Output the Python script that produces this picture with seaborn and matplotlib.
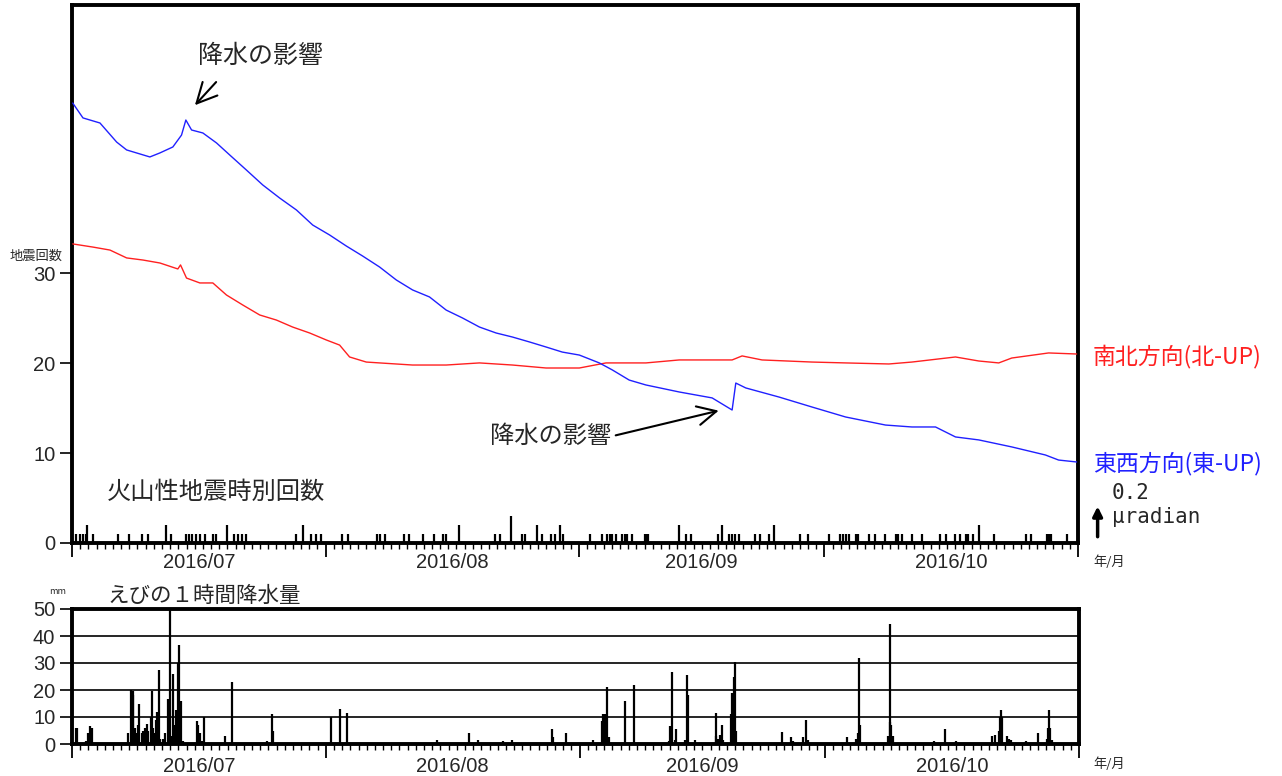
import pandas as pd
import numpy as np
import matplotlib
matplotlib.use("Agg")
import matplotlib.pyplot as plt
import matplotlib.dates as mdates
from matplotlib.transforms import blended_transform_factory
import seaborn as sns

# ---------------- data ----------------
start = pd.Timestamp("2016-07-01")
end = pd.Timestamp("2016-11-01")
month_labels = ["2016/07", "2016/08", "2016/09", "2016/10"]

# hourly volcanic earthquake counts (days since 2016-07-01)
eq_day = [0.49, 0.98, 1.31, 1.71, 1.87, 2.53, 5.6, 7.03, 8.55, 9.28,
          11.53, 12.09, 13.9, 14.29, 14.65, 15.14, 15.63, 16.24, 17.22, 17.58,
          19.0, 19.78, 20.27, 20.76, 21.25, 27.35, 28.27, 29.24, 29.85, 30.46,
          32.97, 33.7, 37.24, 37.61, 38.22, 40.54, 41.15, 42.93, 44.2, 45.42,
          45.73, 47.37, 51.77, 52.38, 53.72, 55.07, 55.43, 56.9, 57.51, 58.61,
          59.1, 59.71, 60.07, 63.37, 64.84, 65.45, 65.81, 66.06, 66.54, 67.28,
          67.59, 67.89, 68.5, 70.02, 70.21, 70.45, 74.24, 75.09, 75.7, 79.0,
          79.49, 80.34, 80.71, 81.07, 81.56, 83.52, 84.13, 85.23, 85.84, 88.97,
          89.99, 92.55, 93.89, 94.26, 94.63, 94.99, 95.85, 96.09, 97.44, 98.17,
          99.39, 100.73, 100.98, 101.47, 102.69, 103.91, 106.11, 106.84, 107.94, 108.55,
          109.28, 109.52, 110.13, 110.87, 112.7, 116.6, 117.3, 119.2, 119.4, 119.7,
          121.6]
eq_count = [1, 1, 1, 1, 2, 1, 1, 1, 1, 1,
            2, 1, 1, 1, 1, 1, 1, 1, 1, 1,
            2, 1, 1, 1, 1, 1, 2, 1, 1, 1,
            1, 1, 1, 1, 1, 1, 1, 1, 1, 1,
            1, 2, 1, 1, 3, 1, 1, 2, 1, 1,
            1, 2, 1, 1, 1, 1, 1, 1, 1, 1,
            1, 1, 1, 1, 1, 1, 2, 1, 1, 1,
            2, 1, 1, 1, 1, 1, 1, 1, 2, 1,
            1, 1, 1, 1, 1, 1, 1, 1, 1, 1,
            1, 1, 1, 1, 1, 1, 1, 1, 1, 1,
            1, 1, 1, 2, 1, 1, 1, 1, 1, 1,
            1]

# tilt (micro radian, relative)
ew_day = [0.09, 1.34, 3.42, 5.46, 6.68, 9.52, 10.75, 12.33, 13.39, 13.92,
          14.62, 16.0, 17.67, 19.29, 21.33, 23.32, 25.4, 27.44, 29.43, 31.5,
          33.54, 35.53, 37.61, 39.65, 41.64, 43.71, 45.75, 47.74, 49.82, 51.86,
          53.85, 55.92, 57.96, 59.95, 62.03, 64.47, 66.06, 68.13, 70.17, 74.24,
          78.27, 80.71, 81.16, 82.38, 86.45, 90.48, 94.59, 99.47, 102.69, 105.58,
          108.02, 110.87, 114.9, 119.01, 120.63, 122.83]
ew_tilt = [2.514, 2.429, 2.4, 2.291, 2.246, 2.206, 2.229, 2.263, 2.331, 2.417,
           2.36, 2.343, 2.286, 2.217, 2.131, 2.046, 1.971, 1.903, 1.817, 1.76,
           1.697, 1.64, 1.577, 1.503, 1.446, 1.406, 1.331, 1.286, 1.234, 1.2,
           1.177, 1.149, 1.12, 1.091, 1.074, 1.029, 0.989, 0.931, 0.903, 0.863,
           0.829, 0.76, 0.914, 0.886, 0.834, 0.777, 0.72, 0.674, 0.663, 0.663,
           0.606, 0.589, 0.549, 0.503, 0.474, 0.463]

ns_day = [0.09, 2.56, 4.64, 6.68, 8.67, 10.75, 12.94, 13.27, 14.0, 15.63,
          17.22, 18.89, 20.88, 22.95, 24.99, 26.98, 29.06, 31.1, 32.72, 33.94,
          35.98, 37.61, 41.64, 45.75, 49.82, 53.85, 57.96, 62.03, 65.29, 70.17,
          74.24, 80.71, 81.93, 84.37, 90.48, 94.59, 99.88, 102.69, 108.02, 110.87,
          113.31, 114.9, 119.41, 122.83]
ns_tilt = [1.709, 1.691, 1.674, 1.629, 1.617, 1.6, 1.566, 1.589, 1.514, 1.486,
           1.486, 1.417, 1.36, 1.303, 1.274, 1.234, 1.2, 1.16, 1.131, 1.063,
           1.034, 1.029, 1.017, 1.017, 1.029, 1.017, 1.0, 1.0, 1.029, 1.029,
           1.046, 1.046, 1.069, 1.046, 1.034, 1.029, 1.023, 1.034, 1.063, 1.04,
           1.029, 1.057, 1.086, 1.08]

# hourly precipitation at Ebino (mm)
rain_day = [0.49, 0.61, 1.71, 1.95, 2.2, 2.44, 6.84, 7.2, 7.39, 7.48,
            7.69, 7.9, 8.06, 8.18, 8.51, 8.71, 8.91, 9.12, 9.32, 9.65,
            9.73, 9.93, 10.13, 10.26, 10.38, 10.59, 10.74, 11.15, 11.36, 11.76,
            11.97, 12.17, 12.37, 12.58, 12.7, 12.86, 12.98, 13.1, 13.27, 13.52,
            15.23, 15.42, 15.63, 15.84, 16.15, 18.72, 19.57, 23.85, 24.46, 24.58,
            31.62, 32.72, 33.54, 44.53, 48.51, 49.61, 52.59, 53.69, 58.69, 58.77,
            60.4, 63.65, 64.68, 64.87, 65.08, 65.29, 65.57, 67.52, 68.62, 72.93,
            73.1, 73.26, 73.63, 73.83, 74.85, 75.13, 75.3, 76.07, 78.63, 78.72,
            78.96, 79.21, 79.37, 79.53, 80.55, 80.67, 80.83, 80.95, 81.07, 86.78,
            87.87, 88.07, 89.29, 89.62, 89.9, 94.66, 95.81, 96.01, 96.13, 96.3,
            99.67, 99.88, 99.96, 100.09, 100.28, 105.29, 106.68, 108.02, 112.37, 112.78,
            113.19, 113.39, 113.52, 113.64, 114.2, 114.44, 114.74, 116.57, 117.99, 119.08,
            119.2, 119.33, 119.5, 119.66]
rain_mm = [6, 6, 1, 4, 6.5, 6, 4, 20, 19.5, 18,
           6, 4, 7, 15, 4, 5, 6, 7.5, 5, 10,
           19.5, 6, 4, 9, 12, 27.5, 2, 2, 4, 16.5,
           50, 3, 26, 7, 12.5, 7, 30, 36.5, 16, 1,
           8.5, 7, 4, 1, 10, 3, 23, 1, 11, 5,
           10, 13, 11.5, 1.5, 4, 1.5, 1, 1.5, 5.5, 2.5,
           4, 1.5, 8.5, 11, 11, 21, 2.5, 16, 22, 1,
           6.5, 26.5, 1.5, 5.5, 1.5, 25.5, 18, 1.5, 3, 11.5,
           2, 3.5, 7, 1.5, 11, 19, 25, 30.5, 5, 4.5,
           2.5, 1, 2.5, 9, 1.5, 2.5, 2, 4, 32, 7,
           3, 44.5, 8, 7, 3, 1, 5.5, 1, 3, 3.5,
           5, 10, 12.5, 10, 3, 2, 1.5, 1, 4, 2,
           6, 12.5, 6, 1.5]


def to_time(days):
    return start + pd.to_timedelta(np.array(days), unit="D")


eq_t = to_time(eq_day)
ew_t = to_time(ew_day)
ns_t = to_time(ns_day)
rain_t = to_time(rain_day)

# ---------------- style ----------------
sns.set_style("ticks")
plt.rcParams["font.family"] = ["Noto Sans CJK JP", "DejaVu Sans"]
num_font = ["Liberation Sans", "DejaVu Sans"]

W, H = 1282, 776
fig = plt.figure(figsize=(W / 100, H / 100), dpi=100)


def fx(px):
    return px / W


def fy(py):
    return 1 - py / H


ax = fig.add_axes([fx(72), fy(543), fx(1078) - fx(72), fy(5) - fy(543)])
axr = fig.add_axes([fx(72), fy(744), fx(1079) - fx(72), fy(609) - fy(744)])


def style_time_axis(a, label_y):
    a.set_xlim(start, end)
    a.xaxis.set_major_locator(mdates.MonthLocator())
    a.xaxis.set_minor_locator(mdates.DayLocator())
    a.xaxis.set_major_formatter(plt.NullFormatter())
    a.tick_params(axis="x", which="major", length=10, width=1.3, direction="out", color="black")
    a.tick_params(axis="x", which="minor", length=4, width=1.0, direction="out", color="black")
    a.tick_params(axis="y", length=9, width=1.2, direction="out", color="black", pad=3)
    for lab in a.get_yticklabels():
        lab.set_family(num_font)
        lab.set_fontsize(14.5)
    tr = blended_transform_factory(a.transData, a.transAxes)
    months = pd.date_range(start, periods=4, freq="MS")
    for m, lab in zip(months, month_labels):
        mid = m + (m + pd.offsets.MonthBegin(1) - m) / 2
        a.text(mid, label_y, lab, transform=tr, ha="center", va="center",
               fontsize=14.5, family=num_font)
    for s in a.spines.values():
        s.set_linewidth(2.8)
        s.set_color("black")


# ---------------- top panel: earthquakes + tilt ----------------
ax.vlines(eq_t, 0, eq_count, color="black", lw=1.6)
ax.set_ylim(0, 59.8)
ax.set_yticks([0, 10, 20, 30])
style_time_axis(ax, -0.037)

ax2 = ax.twinx()
ax2.set_ylim(0, 538 / 175)
sns.lineplot(x=ns_t, y=ns_tilt, color="#ff2020", lw=1.0, ax=ax2)
sns.lineplot(x=ew_t, y=ew_tilt, color="#2020ff", lw=1.0, ax=ax2)
ax2.set_yticks([])
ax2.set_ylabel("")
for s in ax2.spines.values():
    s.set_visible(False)

# scale arrow 0.2 micro radian
tr2 = blended_transform_factory(ax2.transAxes, ax2.transData)
ax2.annotate("", xy=(1.0195, 0.225), xytext=(1.0195, 0.02), xycoords=tr2, textcoords=tr2,
             arrowprops=dict(arrowstyle="-|>", lw=2.5, color="black", mutation_scale=14))
fig.text(fx(1112), fy(493), "0.2", family="DejaVu Sans Mono", fontsize=15, va="center")
fig.text(fx(1112), fy(517), "\u03bcradian", family="DejaVu Sans Mono", fontsize=15, va="center")

fig.text(fx(1093), fy(356), "南北方向(北-UP)", color="#ff2020", fontsize=16.5, va="center")
fig.text(fx(1093), fy(464), "東西方向(東-UP)", color="#2020ff", fontsize=16.5, va="center")
fig.text(fx(1109), fy(562), "年/月", fontsize=9.5, ha="center", va="center")
fig.text(fx(36), fy(256), "地震回数", fontsize=9.5, ha="center", va="center")
fig.text(fx(107), fy(492), "火山性地震時別回数", fontsize=17.5, va="center")

# rain effect annotations
ax2.annotate("", xy=(start + pd.Timedelta(days=14.8), 2.49), xytext=(fx(218), fy(80)),
             textcoords="figure fraction",
             arrowprops=dict(arrowstyle="->", lw=1.5, color="black", mutation_scale=36))
fig.text(fx(260), fy(56), "降水の影響", fontsize=18, ha="center", va="center")
ax2.annotate("", xy=(start + pd.Timedelta(days=79.4), 0.76), xytext=(fx(613), fy(436)),
             textcoords="figure fraction",
             arrowprops=dict(arrowstyle="->", lw=1.5, color="black", mutation_scale=34))
fig.text(fx(551), fy(436), "降水の影響", fontsize=17.5, ha="center", va="center")

# ---------------- bottom panel: precipitation ----------------
axr.vlines(rain_t, 0, rain_mm, color="black", lw=1.6)
axr.set_ylim(0, 50)
axr.set_yticks([0, 10, 20, 30, 40, 50])
for v in [10, 20, 30, 40]:
    axr.axhline(v, color="black", lw=1.2, zorder=0)
style_time_axis(axr, -0.163)
fig.text(fx(1109), fy(764), "年/月", fontsize=9.5, ha="center", va="center")
fig.text(fx(58), fy(592), "mm", fontsize=6.5, ha="center", va="center")
fig.text(fx(107), fy(596), "えびの１時間降水量", fontsize=15.5, va="center")

fig.savefig("out.png", dpi=100, facecolor="white")
